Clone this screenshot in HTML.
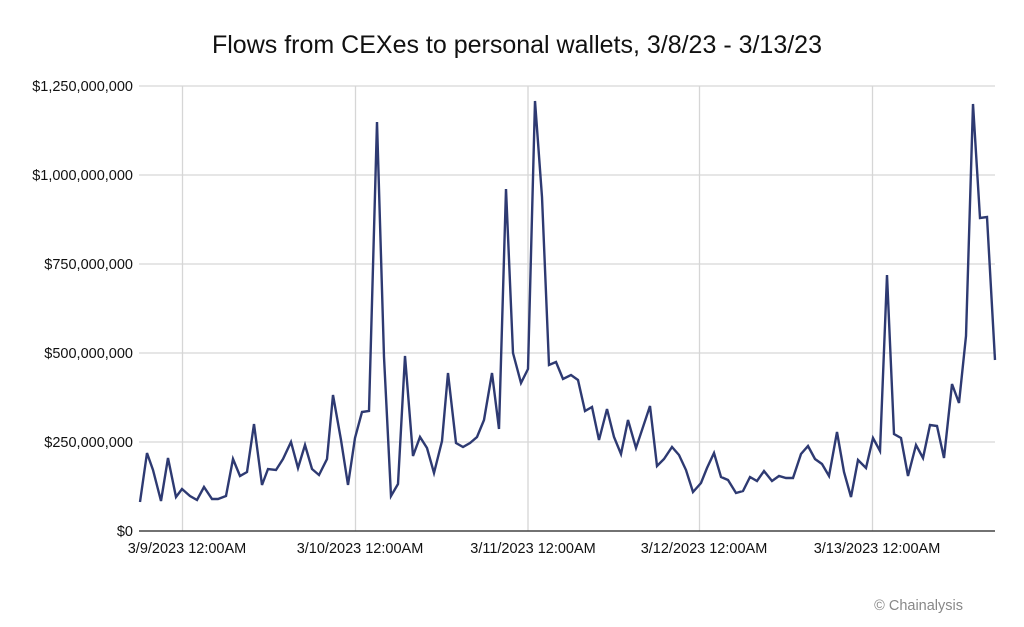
<!DOCTYPE html>
<html><head><meta charset="utf-8"><style>
body{margin:0;background:#fff;}
svg{display:block;font-family:"Liberation Sans",sans-serif;}
</style></head><body>
<svg width="1024" height="627" viewBox="0 0 1024 627">
<rect width="1024" height="627" fill="#fff"/>
<text x="517" y="53" text-anchor="middle" font-size="25" fill="#111">Flows from CEXes to personal wallets, 3/8/23 - 3/13/23</text>
<g stroke="#d6d6d6" stroke-width="1.3">
<line x1="139" y1="86" x2="995" y2="86"/><line x1="139" y1="175" x2="995" y2="175"/>
<line x1="139" y1="264" x2="995" y2="264"/><line x1="139" y1="353" x2="995" y2="353"/>
<line x1="139" y1="442" x2="995" y2="442"/>
<line x1="182.5" y1="86" x2="182.5" y2="531"/><line x1="355.5" y1="86" x2="355.5" y2="531"/>
<line x1="528" y1="86" x2="528" y2="531"/><line x1="699.5" y1="86" x2="699.5" y2="531"/>
<line x1="872.5" y1="86" x2="872.5" y2="531"/>
</g>
<line x1="139" y1="531" x2="995" y2="531" stroke="#444" stroke-width="1.5"/>
<g font-size="14.5" fill="#111" text-anchor="end">
<text x="133" y="91">$1,250,000,000</text><text x="133" y="180">$1,000,000,000</text>
<text x="133" y="269">$750,000,000</text><text x="133" y="358">$500,000,000</text>
<text x="133" y="447">$250,000,000</text><text x="133" y="536">$0</text>
</g>
<g font-size="14.5" fill="#111" text-anchor="middle">
<text x="187" y="553">3/9/2023 12:00AM</text><text x="360" y="553">3/10/2023 12:00AM</text>
<text x="533" y="553">3/11/2023 12:00AM</text><text x="704" y="553">3/12/2023 12:00AM</text>
<text x="877" y="553">3/13/2023 12:00AM</text>
</g>
<text x="963" y="610" text-anchor="end" font-size="14.5" fill="#888">© Chainalysis</text>
<polyline fill="none" stroke="#2e3a72" stroke-width="2.4" stroke-linejoin="miter" points="
140,502 147,453 153,470 161,501 168,458 176,497 182,489 190,496 197,500 204,487 212,499 218,499 226,496 233,459 240,476 247,472 254,424 262,485 268,469 276,470 283,459 291,442 298,468 305,445 312,469 319,475 327,459 333,395 341,440 348,485 355,438 362,412 369,411 377,122 384,357 391,496 398,484 405,356 413,456 420,437 427,448 434,473 442,441 448,373 456,443 463,447 470,443 477,437 484,420 492,373 499,429 506,189 513,353 521,383 528,369 535,101 542,197 549,365 556,362 563,379 571,375 578,380 585,411 592,407 599,440 607,409 614,437 621,454 628,420 636,448 643,427 650,406 657,466 664,459 672,447 679,455 686,470 693,492 701,483 707,468 714,453 721,477 728,480 736,493 743,491 750,477 757,481 764,471 772,481 779,476 786,478 793,478 801,454 808,446 815,459 822,464 829,476 837,432 844,472 851,497 858,460 866,468 873,438 880,451 887,275 894,434 901,438 908,476 916,445 923,458 930,425 937,426 944,458 952,384 959,403 966,336 973,104 980,218 987,217 995,360"/>
</svg>
</body></html>
